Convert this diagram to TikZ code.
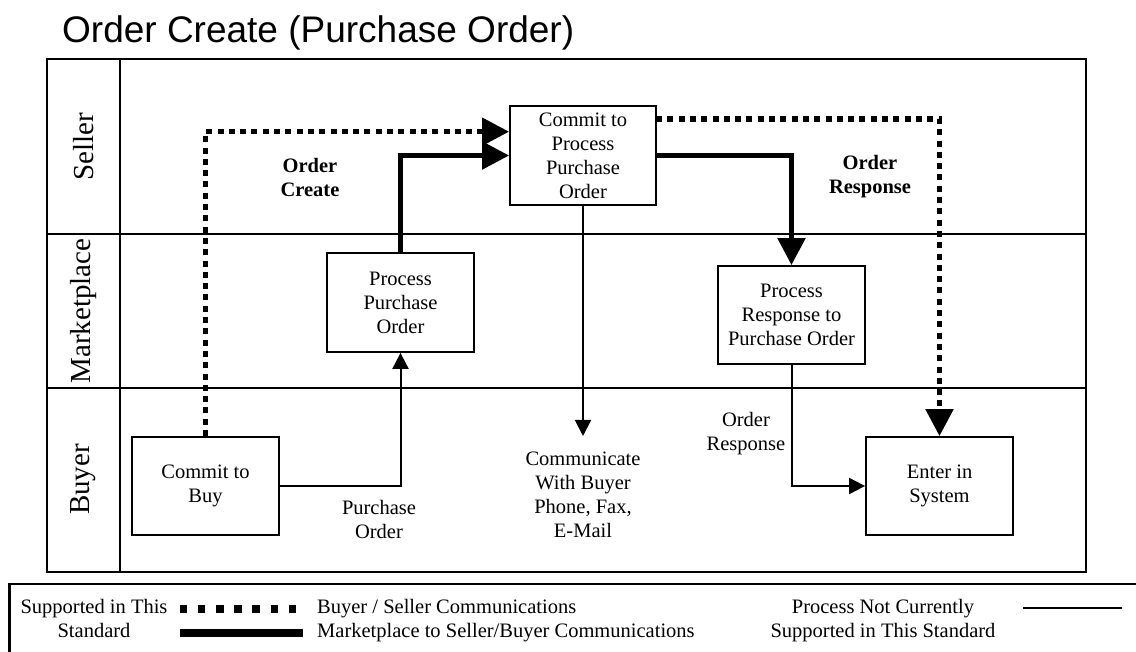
\documentclass[tikz,border=0pt]{standalone}
\usepackage{fontspec}
\setmainfont{Liberation Serif}
\newfontfamily\titlefont{Liberation Sans}
\usetikzlibrary{arrows.meta}
\begin{document}
\begin{tikzpicture}[x=1pt,y=-1pt,
  txt/.style={inner sep=0pt, align=center, font=\fontsize{20.5}{24}\selectfont},
  btxt/.style={inner sep=0pt, align=center, font=\fontsize{20.5}{24}\selectfont\bfseries},
  box/.style={draw, line width=1.8pt, inner sep=0pt, align=center, font=\fontsize{20.5}{24}\selectfont},
  lane/.style={rotate=90, inner sep=0pt, font=\fontsize{29}{33}\selectfont},
  frame/.style={line width=2.4pt},
  dotline/.style={line width=5.3pt, dash pattern=on 6pt off 5.3pt, line cap=butt},
  thickline/.style={line width=5.3pt, line join=miter},
  thinline/.style={line width=2pt},
  bigtip/.style={-{Triangle[length=27pt,width=27pt]}},
  smalltip/.style={-{Triangle[length=16pt,width=16pt]}}
]
\useasboundingbox (0,0) rectangle (1136,652);

% title
\node[anchor=base west, inner sep=0pt, font=\titlefont\fontsize{37}{40}\selectfont] (title) at (62,43) {Order Create (Purchase Order)};

% frame and lanes
\draw[frame] (46.7,59) rectangle (1086,571.7);
\draw[frame] (46.7,234) -- (1086,234);
\draw[frame] (46.7,388) -- (1086,388);
\draw[frame] (120,59) -- (120,571.7);
\node[lane] (seller) at (83.5,146.5) {Seller};
\node[lane] (market) at (83.5,311) {Marketplace};
\node[lane] (buyer) at (83.5,479.5) {Buyer};

% process boxes
\node[box, minimum width=147, minimum height=98] (buy) at (205.5,486) {Commit to\\Buy};
\node[box, minimum width=147, minimum height=99] (ppo) at (400.5,302.5) {Process\\Purchase\\Order};
\node[box, minimum width=146, minimum height=99] (cpo) at (583,155.5) {Commit to\\Process\\Purchase\\Order};
\node[box, minimum width=147, minimum height=98] (pr) at (791.5,315) {Process\\Response to\\Purchase Order};
\node[box, minimum width=147, minimum height=98] (ent) at (939.5,486) {Enter in\\System};

% labels
\node[btxt] (lcreate) at (310,177) {Order\\Create};
\node[btxt] (lresp) at (870,176.5) {Order\\Response};
\node[txt] (lpo) at (379,519) {Purchase\\Order};
\node[txt] (lor) at (746,434) {Order\\Response};
\node[txt] (comm) at (583,495) {Communicate\\With Buyer\\Phone, Fax,\\E-Mail};

% connectors
\coordinate (d1) at (205.5,131.7);
\draw[dotline, bigtip] (buy.north) -- (d1) -- (d1 -| cpo.west);
\draw[thickline, bigtip] (ppo.north) |- (cpo.west);
\draw[thickline, bigtip] (cpo.east) -| (pr.north);
\coordinate (d2) at (656,119);
\draw[dotline, bigtip] (d2) -| (ent.north);
\coordinate (commtop) at (583,436);
\draw[thinline, smalltip] (cpo.south) -- (commtop);
\draw[thinline, smalltip] (buy.east) -| (ppo.south);
\draw[thinline, smalltip] (pr.south) |- (ent.west);

% legend
\draw[frame] (1140,584) -- (9.3,584) -- (9.3,656);
\node[txt, anchor=base] (lg1) at (94,613) {Supported in This};
\node[txt, anchor=base] (lg2) at (94,637) {Standard};
\coordinate (ls1) at (180,609);
\coordinate (le1) at (296,609);
\draw[line width=7.3pt, dash pattern=on 7.3pt off 10.8pt] (ls1) -- (le1);
\coordinate (ls2) at (180,632.7);
\coordinate (le2) at (303,632.7);
\draw[line width=8pt] (ls2) -- (le2);
\node[txt, anchor=base west] (lg3) at (317,613) {Buyer / Seller Communications};
\node[txt, anchor=base west] (lg4) at (317,637) {Marketplace to Seller/Buyer Communications};
\node[txt, anchor=base] (lg5) at (883,613) {Process Not Currently};
\node[txt, anchor=base] (lg6) at (883,637) {Supported in This Standard};
\coordinate (ls3) at (1023,608);
\coordinate (le3) at (1122,608);
\draw[line width=2.5pt] (ls3) -- (le3);
\end{tikzpicture}
\end{document}
